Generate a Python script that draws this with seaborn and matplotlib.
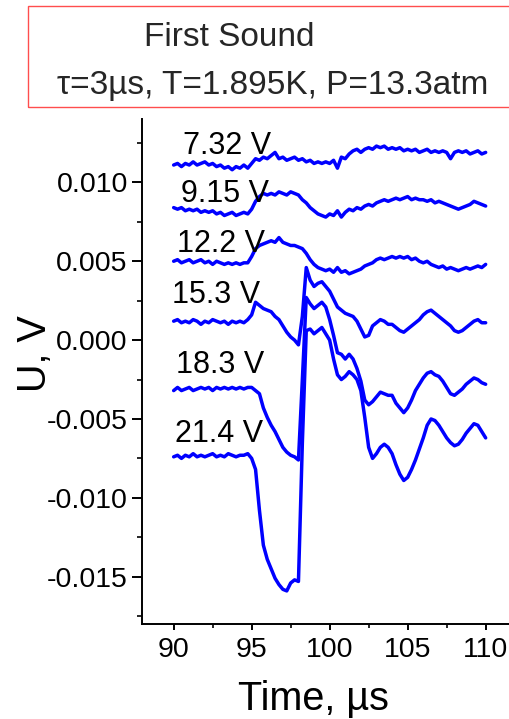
import numpy as np
import pandas as pd
import matplotlib
matplotlib.use("Agg")
import matplotlib.pyplot as plt
from matplotlib.patches import Rectangle
from matplotlib.ticker import MultipleLocator, FuncFormatter
import seaborn as sns

# Sampling times of the oscilloscope traces, microseconds
time_us = np.arange(90.0, 110.001, 0.25)

# Detector signal for each heater voltage, in millivolts (one row = 2 us)
trace_7_32 = [
    11.1, 11.2, 11.0, 11.2, 11.1, 11.3, 11.1, 11.2,
    11.3, 11.1, 11.2, 11.0, 11.1, 10.9, 11.0, 10.8,
    11.0, 10.9, 11.1, 10.9, 11.2, 11.5, 11.4, 11.6,
    11.5, 11.7, 11.9, 11.5, 11.6, 11.4, 11.5, 11.6,
    11.4, 11.5, 11.3, 11.4, 11.2, 11.3, 11.2, 11.3,
    11.2, 11.4, 10.9, 11.6, 11.5, 11.8, 12.0, 12.1,
    11.9, 12.1, 12.2, 12.1, 12.3, 12.2, 12.3, 12.1,
    12.2, 12.1, 12.2, 12.0, 12.1, 12.0, 12.1, 11.9,
    12.0, 12.1, 11.9, 12.0, 11.9, 12.0, 11.9, 11.5,
    11.9, 12.0, 11.9, 12.0, 11.8, 11.9, 12.0, 11.8,
    11.9,
]
trace_9_15 = [
    8.4, 8.3, 8.4, 8.2, 8.3, 8.2, 8.3, 8.1,
    8.2, 8.1, 8.2, 8.0, 8.1, 7.9, 8.0, 8.1,
    7.9, 8.0, 8.1, 8.0, 8.3, 8.8, 9.1, 9.3,
    9.2, 9.3, 9.2, 9.4, 9.3, 9.2, 9.4, 9.3,
    9.2, 8.9, 8.7, 8.4, 8.2, 8.0, 7.9, 7.8,
    8.0, 7.9, 8.2, 7.8, 8.1, 8.3, 8.2, 8.4,
    8.3, 8.5, 8.6, 8.5, 8.7, 8.8, 8.9, 8.8,
    8.9, 9.0, 8.9, 9.0, 9.1, 8.9, 9.0, 8.9,
    8.9, 8.8, 8.9, 8.7, 8.8, 8.7, 8.6, 8.5,
    8.4, 8.3, 8.4, 8.5, 8.6, 8.8, 8.7, 8.6,
    8.5,
]
trace_12_2 = [
    5.0, 5.1, 4.9, 5.0, 5.1, 4.9, 5.0, 5.1,
    4.9, 5.0, 4.8, 5.0, 4.9, 4.8, 4.9, 4.8,
    4.9, 4.8, 4.9, 4.9, 5.3, 5.8, 6.0, 6.1,
    6.2, 6.3, 6.2, 6.5, 6.2, 6.1, 6.0, 6.0,
    5.9, 5.8, 5.5, 5.1, 4.8, 4.6, 4.5, 4.4,
    4.5, 4.3, 4.6, 4.3, 4.4, 4.2, 4.3, 4.4,
    4.5, 4.7, 4.8, 4.9, 5.1, 5.2, 5.1, 5.2,
    5.3, 5.2, 5.3, 5.2, 5.3, 5.1, 5.2, 5.0,
    4.9, 5.0, 4.8, 4.7, 4.6, 4.7, 4.5, 4.6,
    4.5, 4.4, 4.5, 4.6, 4.5, 4.6, 4.7, 4.6,
    4.8,
]
trace_15_3 = [
    1.2, 1.3, 1.1, 1.2, 1.1, 1.3, 1.2, 1.0,
    1.2, 1.1, 1.3, 1.2, 1.1, 1.2, 1.0, 1.2,
    1.1, 1.2, 1.1, 1.3, 1.6, 2.4, 2.2, 2.0,
    1.9, 1.8, 1.5, 1.3, 0.9, 0.5, 0.2, 0.0,
    -0.3, 1.5, 4.6, 3.8, 3.4, 3.6, 3.7, 3.4,
    3.1, 2.6, 2.1, 1.9, 1.7, 1.6, 1.5, 1.2,
    0.7, 0.2, 0.3, 0.9, 1.1, 1.3, 1.2, 1.0,
    1.0, 0.8, 0.6, 0.5, 0.7, 0.9, 1.1, 1.3,
    1.6, 1.8, 1.9, 1.7, 1.5, 1.3, 1.1, 0.9,
    0.6, 0.5, 0.6, 0.8, 1.0, 1.2, 1.3, 1.1,
    1.1,
]
trace_18_3 = [
    -3.2, -3.0, -3.2, -3.1, -3.0, -3.2, -3.1, -3.0,
    -3.1, -3.0, -3.2, -3.0, -3.1, -3.0, -3.1, -3.0,
    -3.1, -3.0, -3.1, -3.0, -3.0, -3.2, -3.4, -4.3,
    -4.9, -5.4, -5.8, -6.3, -6.8, -7.1, -7.3, -7.4,
    -7.6, -2.5, 2.7, 2.3, 2.0, 2.2, 2.4, 2.1,
    1.3, 0.3, -0.8, -0.9, -1.2, -0.9, -1.2, -1.8,
    -2.6, -3.8, -4.1, -3.9, -3.6, -3.3, -3.4, -3.5,
    -3.5, -4.0, -4.3, -4.6, -4.3, -3.8, -3.2, -2.8,
    -2.4, -2.1, -2.0, -2.2, -2.3, -2.6, -3.0, -3.4,
    -3.5, -3.3, -3.1, -2.8, -2.6, -2.4, -2.5, -2.7,
    -2.8,
]
trace_21_4 = [
    -7.4, -7.3, -7.5, -7.3, -7.4, -7.2, -7.4, -7.3,
    -7.4, -7.3, -7.2, -7.4, -7.3, -7.4, -7.2, -7.3,
    -7.4, -7.3, -7.3, -7.2, -7.5, -8.2, -10.8, -13.0,
    -13.9, -14.5, -15.1, -15.5, -15.8, -15.9, -15.4, -15.2,
    -15.3, -6.5, 0.6, 0.7, 0.4, 0.6, 0.8, 0.4,
    0.0, -1.2, -2.2, -2.5, -2.3, -2.0, -2.2, -2.5,
    -3.2, -4.9, -6.8, -7.5, -7.2, -6.8, -6.6, -6.8,
    -7.2, -7.9, -8.5, -8.9, -8.7, -8.2, -7.6, -6.9,
    -6.2, -5.4, -5.0, -5.1, -5.4, -5.8, -6.2, -6.5,
    -6.7, -6.6, -6.3, -5.9, -5.6, -5.3, -5.4, -5.8,
    -6.2,
]

trace_labels = ["7.32 V", "9.15 V", "12.2 V", "15.3 V", "18.3 V", "21.4 V"]
traces = [trace_7_32, trace_9_15, trace_12_2, trace_15_3, trace_18_3, trace_21_4]
# Where each voltage label sits (time in us, signal in V)
label_time = [90.6, 90.47, 90.23, 89.9, 90.15, 90.1]
label_level = [0.0118, 0.00877, 0.0056, 0.00236, -0.00207, -0.00648]

frames = []
for name, mv in zip(trace_labels, traces):
    frames.append(pd.DataFrame({"Time": time_us, "U": np.asarray(mv) / 1000.0, "trace": name}))
df = pd.concat(frames, ignore_index=True)

sns.set_style("ticks")
plt.rcParams["font.family"] = ["Liberation Sans", "DejaVu Sans"]
plt.rcParams["axes.unicode_minus"] = False

fig = plt.figure(figsize=(5.10, 7.19), dpi=100)
ax = fig.add_axes([0.2784, 0.1321, 0.7216, 0.702])

sns.lineplot(data=df, x="Time", y="U", hue="trace", units="trace", estimator=None,
             palette=["#0000ff"] * len(trace_labels), linewidth=2.5, legend=False,
             sort=False, ax=ax)

for name, tx, ty in zip(trace_labels, label_time, label_level):
    ax.text(tx, ty, name, fontsize=22, ha="left", va="baseline", color="black")

ax.set_xlim(87.97, 111.56)
ax.set_ylim(-0.0180, 0.0140)
ax.xaxis.set_major_locator(MultipleLocator(5))
ax.xaxis.set_minor_locator(MultipleLocator(2.5))
ax.yaxis.set_major_locator(MultipleLocator(0.005))
ax.yaxis.set_minor_locator(MultipleLocator(0.0025))
ax.yaxis.set_major_formatter(FuncFormatter(lambda v, p: f"{v:.3f}".replace("-0.000", "0.000")))
ax.xaxis.set_major_formatter(FuncFormatter(lambda v, p: f"{v:.0f}"))

for side in ("top", "right"):
    ax.spines[side].set_visible(False)
for side in ("left", "bottom"):
    ax.spines[side].set_linewidth(1.4)
    ax.spines[side].set_color("black")

ax.tick_params(axis="y", which="major", direction="out", length=7.2, width=1.4,
               labelsize=20.5, pad=3, colors="black")
ax.tick_params(axis="y", which="minor", direction="out", length=3.6, width=1.4)
ax.tick_params(axis="x", which="major", direction="out", length=4.3, width=1.4,
               labelsize=20.5, pad=5, colors="black")
ax.tick_params(axis="x", which="minor", direction="out", length=2.9, width=1.4)

ax.set_xlabel("Time, µs", fontsize=28.5, color="black")
ax.xaxis.label.set_va("baseline")
ax.xaxis.set_label_coords(0.466, -0.170)
ax.set_ylabel("U, V", fontsize=28.5, color="black")
ax.yaxis.label.set_va("center")
ax.yaxis.set_label_coords(-0.291, 0.535)

# Caption box above the plot
fig.add_artist(Rectangle((0.0543, 0.8516), 1.0, 0.1396, transform=fig.transFigure,
                         facecolor="none", edgecolor="#ff4d4d", linewidth=1.0,
                         clip_on=False))
fig.text(0.2824, 0.9364, "First Sound", fontsize=24, ha="left", va="baseline")
fig.text(0.111, 0.8692, "τ=3µs, T=1.895K, P=13.3atm", fontsize=24,
         ha="left", va="baseline")

fig.savefig("out.png", dpi=100)
